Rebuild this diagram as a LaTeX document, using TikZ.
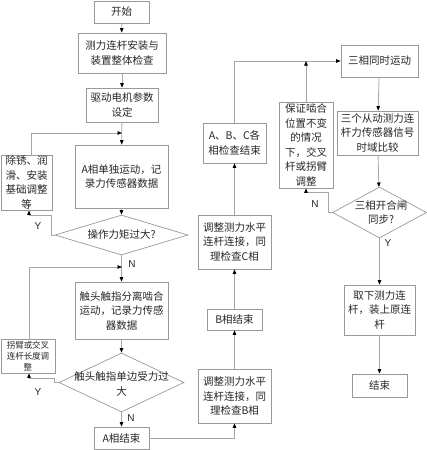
\documentclass[tikz,border=0pt]{standalone}
\usepackage{fontspec}
\newfontfamily\cjk{Noto Sans CJK SC}
\newfontfamily\lat{Liberation Sans}
\usetikzlibrary{arrows.meta,shapes.geometric}
\begin{document}
\begin{tikzpicture}[x=1pt,y=-1pt,
  every node/.style={inner sep=1pt, text=black!85},
  box/.style={draw=black!40, line width=0.7pt, align=center,
    font=\cjk\fontsize{10.5}{14.5}\selectfont},
  dia/.style={draw=black!40, line width=0.7pt, diamond, inner sep=0pt},
  dtext/.style={align=center, font=\cjk\fontsize{10.5}{14.5}\selectfont},
  ln/.style={draw=black!35, line width=0.8pt},
  arr/.style={ln, -{Triangle[length=4.5pt,width=3.5pt,color=black]}},
  yn/.style={font=\lat\fontsize{10}{12}\selectfont}]
\useasboundingbox (0,0) rectangle (427,450);
% left column
\node[box, minimum width=55, minimum height=22] (start) at (121.5,12) {开始};
\node[box, minimum width=88, minimum height=40] (b1) at (122,53) {测力连杆安装与\\装置整体检查};
\node[box, minimum width=72, minimum height=34] (b2) at (122,105) {驱动电机参数\\设定};
\node[box, minimum width=93, minimum height=63] (bA) at (121.5,176.5) {A相单独运动，记\\录力传感器数据};
\node[box, minimum width=51, minimum height=55] (rust) at (26.5,182.5) {除锈、润\\滑、安装\\基础调整\\等};
\node[dia, minimum width=133, minimum height=40] (d1) at (121.5,235) {};
\node[dtext] (d1t) at (d1) {操作力矩过大?};
\node[box, minimum width=93, minimum height=57] (bT) at (121.5,310.5) {触头触指分离啮合\\运动，记录力传感\\器数据};
\node[box, minimum width=54, minimum height=34, font=\cjk\fontsize{8.5}{11}\selectfont] (guai) at (28,356) {拐臂或交叉\\连杆长度调\\整};
\node[dia, minimum width=125, minimum height=59] (d2) at (121.5,382.5) {};
\node[dtext] (d2t) at (121.5,384) {触头触指单边受力过\\大};
\node[box, minimum width=55, minimum height=22] (Aend) at (121.5,438) {A相结束};
% middle column
\node[box, minimum width=73, minimum height=54] (Bbox) at (234.5,396) {调整测力水平\\连杆连接，同\\理检查B相};
\node[box, minimum width=55, minimum height=21] (Bend) at (234.5,319.5) {B相结束};
\node[box, minimum width=73, minimum height=54] (Cbox) at (234.5,242) {调整测力水平\\连杆连接，同\\理检查C相};
\node[box, minimum width=63, minimum height=40] (ABC) at (234.5,143) {A、B、C各\\相检查结束};
\node[box, minimum width=54, minimum height=86] (bao) at (306,145) {保证啮合\\位置不变\\的情况\\下，交叉\\杆或拐臂\\调整};
% right column
\node[box, minimum width=77, minimum height=32] (san) at (379.5,61) {三相同时运动};
\node[box, minimum width=81, minimum height=44] (sange) at (377.5,133) {三个从动测力连\\杆力传感器信号\\时域比较};
\node[dia, minimum width=94, minimum height=51] (d3) at (379.5,212.5) {};
\node[dtext] (d3t) at (381,212.5) {三相开合闸\\同步?};
\node[box, minimum width=71, minimum height=50] (quxia) at (379.5,310) {取下测力连\\杆，装上原连\\杆};
\node[box, minimum width=55, minimum height=23] (fin) at (379.5,385.5) {结束};
% junctions
\coordinate (j1) at (122,133);
\coordinate (j2) at (122,267);
% connectors left
\draw[arr] (start) -- (b1);
\draw[arr] (b1) -- (b2);
\draw[arr] (b2) -- (bA);
\draw[arr] ([xshift=5pt]rust.north) |- (j1);
\draw[arr] (bA) -- (d1);
\draw[arr] (d1.west) -- ++(-3,0) |- (29,215) -- ([xshift=2.5pt]rust.south);
\node[yn] (y1) at (38,226) {Y};
\draw[arr] (d1.south) -- (bT);
\node[yn] (n1) at (132,264) {N};
\draw[arr] ([xshift=1pt]guai.north) |- (j2);
\draw[arr] (bT) -- (d2);
\draw[arr] (d2.west) -- ++(-4,0) |- (29,378) -- ([xshift=1pt]guai.south);
\node[yn] (y2) at (38,392) {Y};
\draw[arr] (d2.south) -- (Aend);
\node[yn] (n2) at (131,418) {N};
% connectors middle
\draw[arr] (Aend.east) -| (Bbox.south);
\draw[arr] (Bbox) -- (Bend);
\draw[arr] (Bend) -- (Cbox);
\draw[arr] (Cbox) -- (ABC);
\draw[arr] (ABC.north) |- (san.west);
\draw[arr] (bao.north) -- (bao.north |- san.west);
% connectors right
\draw[arr] (san) -- (sange);
\draw[arr] (sange) -- (d3);
\draw[arr] (d3.south) -- (quxia);
\node[yn] (y3) at (388,243) {Y};
\draw[arr] (quxia) -- (fin);
\draw[arr] (d3.west) -- ++(-4,0) |- (306,192) -- (bao.south);
\node[yn] (n3) at (315,204) {N};
\end{tikzpicture}
\end{document}
